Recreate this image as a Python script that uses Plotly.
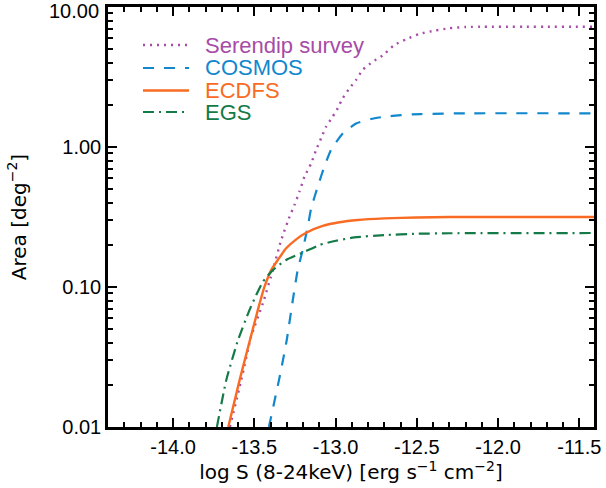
import plotly.graph_objects as go

# ---- data ----
series_names = ["Serendip survey", "COSMOS", "ECDFS", "EGS"]

serendip_x = [-13.65, -13.58, -13.52, -13.447, -13.386, -13.334, -13.283, -13.253, -13.222, -13.191,
              -13.150, -13.120, -13.089, -13.058, -13.018, -12.987, -12.956, -12.915, -12.874, -12.834,
              -12.772, -12.711, -12.639, -12.567, -12.486, -12.39, -12.30, -12.20, -11.40]
serendip_y = [0.010, 0.0217, 0.044, 0.0766, 0.132, 0.217, 0.318, 0.385, 0.480, 0.614,
              0.764, 0.952, 1.154, 1.397, 1.645, 1.89, 2.23, 2.62, 3.01, 3.55,
              4.06, 4.5, 5.35, 5.87, 6.41, 6.78, 7.05, 7.2, 7.22]

cosmos_x = [-13.41, -13.34, -13.30, -13.263, -13.233, -13.202, -13.171, -13.150, -13.110, -13.069,
            -13.028, -12.956, -12.874, -12.782, -12.70, -12.598, -12.475, -12.20, -11.40]
cosmos_y = [0.010, 0.024, 0.042, 0.0807, 0.132, 0.184, 0.27, 0.365, 0.52, 0.723,
            0.952, 1.25, 1.47, 1.585, 1.645, 1.69, 1.72, 1.74, 1.74]

ecdfs_x = [-13.66, -13.59, -13.478, -13.437, -13.396, -13.355, -13.304, -13.242, -13.181, -13.079,
           -12.977, -12.864, -12.70, -12.50, -12.30, -11.40]
ecdfs_y = [0.010, 0.0217, 0.0686, 0.1005, 0.132, 0.156, 0.189, 0.219, 0.244, 0.273,
           0.290, 0.301, 0.309, 0.314, 0.316, 0.316]

egs_x = [-13.73, -13.672, -13.60, -13.529, -13.488, -13.447, -13.386, -13.304, -13.202, -13.099,
         -12.997, -12.885, -12.70, -12.50, -12.30, -11.40]
egs_y = [0.010, 0.0217, 0.0418, 0.0686, 0.0877, 0.109, 0.132, 0.156, 0.176, 0.1995,
         0.214, 0.226, 0.235, 0.240, 0.242, 0.243]

x_tickvals = [-14.0, -13.5, -13.0, -12.5, -12.0, -11.5]
x_ticktext = ["-14.0", "-13.5", "-13.0", "-12.5", "-12.0", "-11.5"]
y_tickvals = [0.01, 0.1, 1.0, 10.0]
y_ticktext = ["0.01", "0.10", "1.00", "10.00"]

# ---- styles ----
colors = ["#a64ca6", "#1187cc", "#f96b22", "#137a48"]
dashes = ["2px,5px", "11px,10px", "solid", "11px,5px,2px,5px"]
widths = [2.4, 2.2, 2.4, 2.2]

xs = [serendip_x, cosmos_x, ecdfs_x, egs_x]
ys = [serendip_y, cosmos_y, ecdfs_y, egs_y]

fig = go.Figure()
for name, x, y, c, d, w in zip(series_names, xs, ys, colors, dashes, widths):
    fig.add_trace(go.Scatter(x=x, y=y, mode="lines", name=name,
                             line=dict(color=c, dash=d, width=w, shape="spline", smoothing=0.5),
                             showlegend=False))

# manual legend (samples + coloured labels), in paper coordinates
leg_rows = [0.9095, 0.8548, 0.8012, 0.7500]
for name, c, d, w, yy in zip(series_names, colors, dashes, widths, leg_rows):
    fig.add_shape(type="line", xref="paper", yref="paper", x0=0.072, x1=0.1667, y0=yy, y1=yy,
                  line=dict(color=c, dash=d, width=w))
    fig.add_annotation(xref="paper", yref="paper", x=0.1955, y=yy, xanchor="left", yanchor="middle",
                       text=name, showarrow=False,
                       font=dict(family="Liberation Sans, Arial, sans-serif", size=22, color=c))

minor_y = [m * 10 ** e for e in (-2, -1, 0) for m in range(2, 10)]

tick_font = dict(family="Liberation Sans, Arial, sans-serif", size=20, color="black")
title_font = dict(family="DejaVu Sans, sans-serif", size=20, color="black")

# the top y label sits at the very edge of the page; draw it as text nudged slightly down
y_labels_axis = [t if v < 10 else "" for v, t in zip(y_tickvals, y_ticktext)]
fig.add_annotation(xref="paper", yref="y", x=0, y=1, xanchor="right", yanchor="middle",
                   xshift=-7, yshift=-4, text=y_ticktext[-1], showarrow=False, font=tick_font)

fig.update_xaxes(range=[-14.4, -11.41], tickmode="array", tickvals=x_tickvals, ticktext=x_ticktext,
                 ticks="inside", ticklen=9, tickwidth=2, tickcolor="black",
                 showline=True, linewidth=2.5, linecolor="black", mirror="ticks",
                 showgrid=False, zeroline=False, tickfont=tick_font, automargin=False,
                 ticklabeloverflow="allow",
                 minor=dict(ticks="inside", ticklen=5, tickwidth=1.6, tickcolor="black",
                            dtick=0.1, tick0=-14.4, showgrid=False),
                 title=dict(text="log S (8-24keV) [erg s<sup>−1</sup> cm<sup>−2</sup>]",
                            font=title_font, standoff=5))
fig.update_yaxes(type="log", range=[-2, 1], tickmode="array", tickvals=y_tickvals, ticktext=y_labels_axis,
                 ticks="inside", ticklen=9, tickwidth=2, tickcolor="black",
                 showline=True, linewidth=2.5, linecolor="black", mirror="ticks",
                 showgrid=False, zeroline=False, tickfont=tick_font, automargin=False,
                 ticklabeloverflow="allow",
                 minor=dict(ticks="inside", ticklen=5, tickwidth=1.6, tickcolor="black",
                            tickvals=minor_y, showgrid=False),
                 title=dict(text="Area [deg<sup>−2</sup>]", font=title_font, standoff=31))

fig.update_layout(width=606, height=488, margin=dict(l=108, r=12, t=7, b=61),
                  plot_bgcolor="white", paper_bgcolor="white", showlegend=False)

# remove the default 8px page margin so the figure fills the window exactly
fig.write_html("out.html", config={"displayModeBar": False},
               post_script="document.body.style.margin='0';")
